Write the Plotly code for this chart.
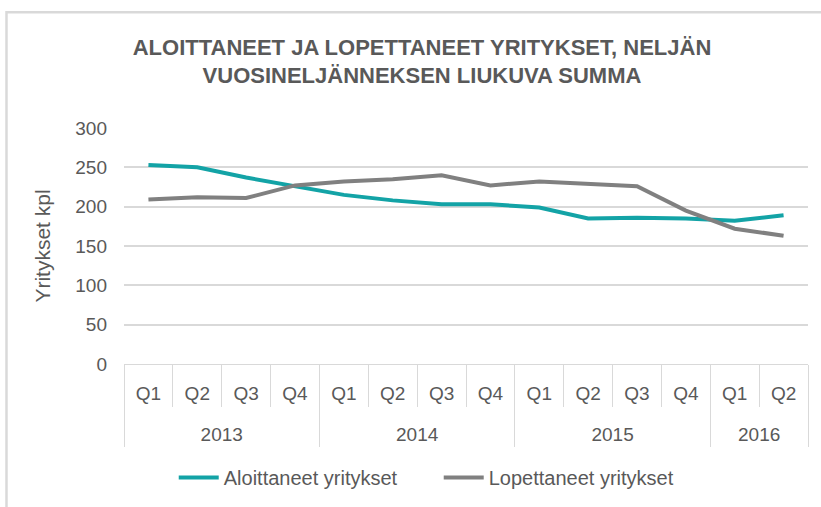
import plotly.graph_objects as go

years = ["2013", "2014", "2015", "2016"]
quarters_per_year = [4, 4, 4, 2]
quarters = ["Q1", "Q2", "Q3", "Q4"] * 3 + ["Q1", "Q2"]
aloittaneet = [253, 250, 237, 226, 215, 208, 203, 203, 199, 185, 186, 185, 182, 189]
lopettaneet = [209, 212, 211, 227, 232, 235, 240, 227, 232, 229, 226, 195, 172, 163]
y_ticks = [0, 50, 100, 150, 200, 250, 300]

# category positions derived from the data
pos = list(range(len(quarters)))
q_bounds = [p - 0.5 for p in pos] + [pos[-1] + 0.5]
y_bounds, y_centers, start = [-0.5], [], 0
for n in quarters_per_year:
    y_centers.append(start + (n - 1) / 2)
    start += n
    y_bounds.append(start - 0.5)
xr = [-0.5, len(quarters) - 0.5]

FONT = "Liberation Sans Narrow, Arial Narrow, Liberation Sans, Arial"
TXT = "#595959"
GRID = "#D9D9D9"

fig = go.Figure()
fig.add_trace(go.Scatter(
    x=pos, y=aloittaneet, mode="lines", name="Aloittaneet yritykset",
    line=dict(color="#13A3A6", width=4)))
fig.add_trace(go.Scatter(
    x=pos, y=lopettaneet, mode="lines", name="Lopettaneet yritykset",
    line=dict(color="#808080", width=4)))
fig.add_trace(go.Scatter(x=[], y=[], xaxis="x2", showlegend=False, hoverinfo="skip"))

fig.update_layout(
    width=821, height=507,
    margin=dict(l=124, r=13, t=128, b=142),
    paper_bgcolor="white", plot_bgcolor="white",
    font=dict(family=FONT, color=TXT, size=16),
    title=dict(
        text="<b>ALOITTANEET JA LOPETTANEET YRITYKSET, NELJÄN<br>VUOSINELJÄNNEKSEN LIUKUVA SUMMA</b>",
        x=0.514, xanchor="center", y=0.892, yanchor="middle",
        font=dict(family=FONT, size=22, color=TXT)),
    showlegend=True,
    legend=dict(orientation="h", x=0.0727, xanchor="left", y=-0.475, yanchor="middle",
                font=dict(family=FONT, size=20, color=TXT), itemwidth=40,
                entrywidth=210, entrywidthmode="pixels"),
    xaxis=dict(
        type="linear", range=xr, automargin=False, showgrid=False, zeroline=False,
        showline=True, linecolor=GRID, linewidth=1,
        tickmode="array", tickvals=pos, ticktext=quarters, ticks="",
        ticklabelstandoff=12,
        tickfont=dict(family=FONT, size=19, color=TXT),
        minor=dict(tickmode="array", tickvals=q_bounds, ticks="outside",
                   ticklen=42, tickcolor=GRID, tickwidth=1, showgrid=False)),
    xaxis2=dict(
        type="linear", range=xr, overlaying="x", anchor="y", side="bottom",
        automargin=False, showgrid=False, zeroline=False, showline=False,
        tickmode="array", tickvals=y_centers, ticktext=years, ticks="",
        ticklabelstandoff=57,
        tickfont=dict(family=FONT, size=19, color=TXT),
        minor=dict(tickmode="array", tickvals=y_bounds, ticks="outside",
                   ticklen=82, tickcolor=GRID, tickwidth=1, showgrid=False)),
    yaxis=dict(
        range=[0, 300], tickvals=y_ticks, showgrid=True, gridcolor=GRID,
        gridwidth=1.5, zeroline=False, showline=False, ticks="", automargin=False,
        ticklabelstandoff=16,
        tickfont=dict(family=FONT, size=19, color=TXT),
        title=dict(text="Yritykset kpl", font=dict(family=FONT, size=21, color=TXT), standoff=18)),
    shapes=[dict(type="rect", xref="paper", yref="paper",
                 x0=-0.1718, x1=1.2, y0=-1.0, y1=1.49,
                 line=dict(color=GRID, width=2.5), fillcolor="rgba(0,0,0,0)")],
)

fig.write_html("out.html", config={"displayModeBar": False},
               post_script="document.body.style.margin='0';")
